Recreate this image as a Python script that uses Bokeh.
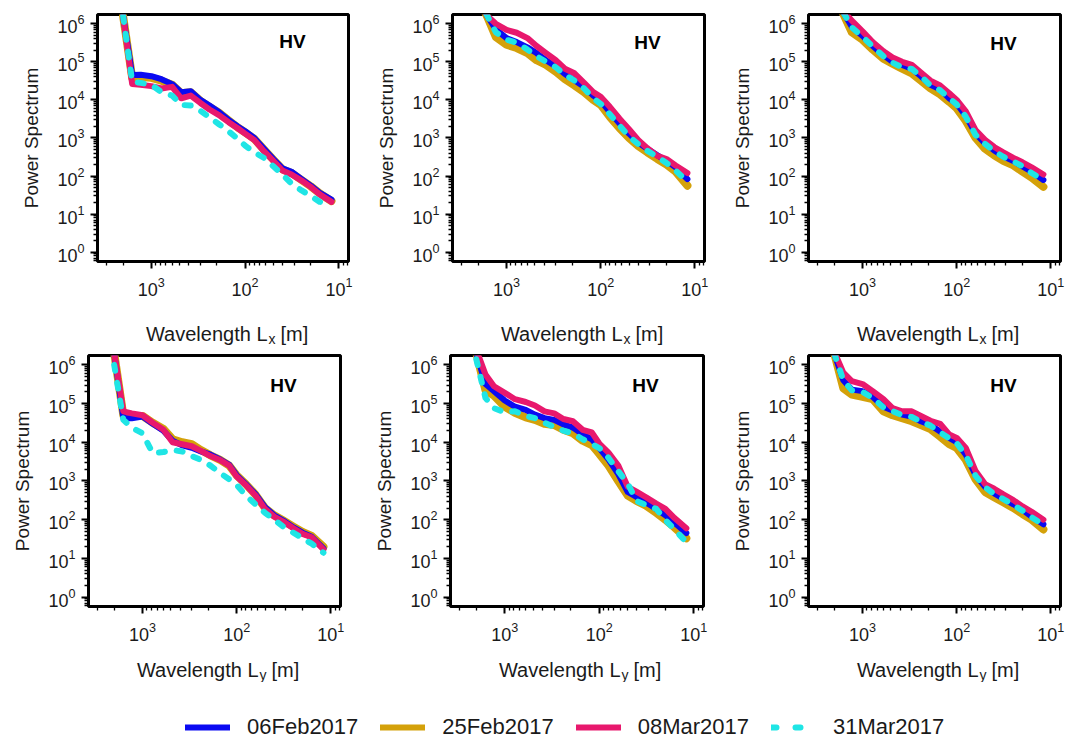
from bokeh.plotting import figure
from bokeh.layouts import column, row
from bokeh.models import Range1d, Label, Legend, LegendItem, FixedTicker
from bokeh.embed import file_html
from bokeh.resources import INLINE

# ---------------- data ----------------
wavelength = [2000, 1600, 1300, 1000, 780, 600, 480, 380, 300, 240, 190, 150,
              120, 100, 80, 63, 50, 40, 32, 25, 20, 16, 12]

series_names = ["06Feb2017", "25Feb2017", "08Mar2017", "31Mar2017"]

# Row 1 : Wavelength Lx
lx1_06feb = [1.6e6, 4.5e4, 4.6e4, 4.2e4, 3.5e4, 2.6e4, 1.6e4, 1.7e4, 1.0e4, 7.1e3, 4.8e3, 3.0e3, 2.0e3, 1.5e3, 1.0e3, 5.2e2, 2.8e2, 1.6e2, 1.3e2, 83, 56, 36, 24]
lx1_25feb = [1.6e6, 3.8e4, 4.0e4, 3.8e4, 3.2e4, 2.5e4, 1.5e4, 1.6e4, 9.5e3, 6.6e3, 4.6e3, 2.9e3, 1.9e3, 1.4e3, 9.5e2, 5.0e2, 2.7e2, 1.5e2, 1.2e2, 79, 54, 35, 22]
lx1_08mar = [1.6e6, 2.6e4, 2.5e4, 2.3e4, 2.0e4, 2.2e4, 1.1e4, 1.3e4, 8.3e3, 5.6e3, 4.0e3, 2.6e3, 1.8e3, 1.3e3, 8.9e2, 4.5e2, 2.5e2, 1.4e2, 1.1e2, 76, 52, 33, 21]
lx1_31mar = [1.6e6, 3.0e4, 2.8e4, 2.5e4, 1.6e4, 1.3e4, 7.4e3, 7.1e3, 5.2e3, 3.5e3, 2.3e3, 1.5e3, 9.5e2, 6.3e2, 4.2e2, 3.0e2, 1.8e2, 1.1e2, 63, 42, 30, 21, 18]

lx2_06feb = [5e6, 1.6e6, 7.1e5, 4.2e5, 3.3e5, 2.4e5, 1.7e5, 1.1e5, 7.6e4, 4.8e4, 3.3e4, 2.2e4, 1.3e4, 9.5e3, 4.8e3, 2.4e3, 1.3e3, 7.6e2, 5.2e2, 3.5e2, 2.5e2, 1.7e2, 83]
lx2_25feb = [5e6, 1.5e6, 4.5e5, 2.8e5, 2.3e5, 1.7e5, 1.1e5, 8.3e4, 5.5e4, 3.5e4, 2.4e4, 1.6e4, 1.0e4, 7.4e3, 3.6e3, 1.8e3, 1.0e3, 6.2e2, 4.2e2, 2.8e2, 2.0e2, 1.3e2, 56]
lx2_08mar = [5e6, 1.6e6, 1.0e6, 6.9e5, 5.8e5, 4.2e5, 2.6e5, 1.7e5, 1.1e5, 6.6e4, 5.0e4, 2.8e4, 1.6e4, 1.2e4, 6.6e3, 3.2e3, 1.7e3, 8.9e2, 5.4e2, 3.4e2, 2.8e2, 1.9e2, 1.2e2]
lx2_31mar = [5e6, 1.6e6, 6.0e5, 3.8e5, 3.2e5, 2.1e5, 1.4e5, 1.0e5, 7.2e4, 4.6e4, 3.2e4, 2.0e4, 1.1e4, 7.9e3, 4.2e3, 2.1e3, 1.1e3, 6.9e2, 4.6e2, 3.2e2, 2.2e2, 1.4e2, 71]

lx3_06feb = [5e6, 2.0e6, 8.3e5, 4.8e5, 2.6e5, 1.5e5, 1.0e5, 8.3e4, 6.6e4, 4.2e4, 2.5e4, 1.9e4, 1.1e4, 7.9e3, 3.8e3, 1.3e3, 7.2e2, 4.7e2, 3.3e2, 2.5e2, 1.8e2, 1.3e2, 79]
lx3_25feb = [5e6, 1.8e6, 6.0e5, 3.8e5, 2.1e5, 1.2e5, 8.9e4, 6.6e4, 5.0e4, 3.2e4, 2.0e4, 1.4e4, 8.9e3, 6.0e3, 2.8e3, 1.0e3, 5.2e2, 3.5e2, 2.5e2, 1.9e2, 1.3e2, 91, 52]
lx3_08mar = [5e6, 2.2e6, 1.2e6, 6.3e5, 3.3e5, 1.9e5, 1.3e5, 1.0e5, 8.3e4, 5.2e4, 3.2e4, 2.4e4, 1.5e4, 1.0e4, 5.0e3, 1.6e3, 8.9e2, 5.8e2, 4.2e2, 3.0e2, 2.3e2, 1.7e2, 1.1e2]
lx3_31mar = [5e6, 2.0e6, 8.0e5, 4.6e5, 2.5e5, 1.4e5, 9.5e4, 7.2e4, 6.5e4, 4.2e4, 2.4e4, 1.8e4, 1.1e4, 7.6e3, 3.6e3, 1.2e3, 7.0e2, 4.5e2, 3.2e2, 2.4e2, 1.8e2, 1.2e2, 78]

# Row 2 : Wavelength Ly
ly1_06feb = [2.0e6, 4.2e4, 4.2e4, 4.6e4, 3.0e4, 2.0e4, 1.1e4, 8.3e3, 7.2e3, 5.8e3, 4.8e3, 3.6e3, 2.6e3, 1.4e3, 8.3e2, 4.5e2, 2.1e2, 1.3e2, 95, 63, 46, 36, 18]
ly1_25feb = [2.0e6, 5.0e4, 4.8e4, 4.8e4, 3.2e4, 2.2e4, 1.2e4, 1.0e4, 8.9e3, 6.3e3, 4.6e3, 3.5e3, 2.5e3, 1.4e3, 8.3e2, 4.4e2, 2.0e2, 1.3e2, 95, 66, 48, 38, 20]
ly1_08mar = [2.0e6, 6.3e4, 5.6e4, 5.0e4, 3.2e4, 2.1e4, 1.0e4, 8.9e3, 7.9e3, 6.0e3, 4.4e3, 3.5e3, 2.5e3, 1.3e3, 7.9e2, 4.2e2, 1.9e2, 1.2e2, 89, 60, 43, 35, 17]
ly1_31mar = [1.0e6, 3.8e4, 2.4e4, 1.7e4, 5.2e3, 5.6e3, 6.3e3, 5.8e3, 4.4e3, 3.5e3, 2.5e3, 1.6e3, 1.1e3, 7.9e2, 4.2e2, 2.5e2, 1.5e2, 1.0e2, 66, 46, 33, 24, 14]

ly2_06feb = [2.0e6, 3.2e5, 2.1e5, 1.2e5, 8.3e4, 6.9e4, 5.2e4, 4.2e4, 3.8e4, 2.9e4, 2.4e4, 1.6e4, 1.2e4, 7.1e3, 3.6e3, 1.5e3, 5.2e2, 3.8e2, 2.8e2, 1.9e2, 1.3e2, 83, 45]
ly2_25feb = [2.0e6, 2.2e5, 1.6e5, 8.3e4, 5.8e4, 4.4e4, 3.8e4, 3.0e4, 2.8e4, 2.1e4, 1.7e4, 1.1e4, 8.5e3, 5.0e3, 2.5e3, 1.0e3, 4.2e2, 3.0e2, 2.3e2, 1.5e2, 1.0e2, 63, 33]
ly2_08mar = [2.5e6, 5.6e5, 2.8e5, 1.9e5, 1.3e5, 1.1e5, 8.9e4, 6.3e4, 5.6e4, 4.0e4, 3.5e4, 2.1e4, 1.8e4, 9.3e3, 5.4e3, 2.5e3, 7.1e2, 5.2e2, 3.8e2, 2.6e2, 1.9e2, 1.1e2, 60]
ly2_31mar = [1.4e6, 1.4e5, 7.6e4, 6.0e4, 6.3e4, 4.8e4, 4.2e4, 3.2e4, 2.5e4, 2.0e4, 1.7e4, 1.2e4, 9.1e3, 7.1e3, 4.0e3, 1.8e3, 8.5e2, 3.0e2, 2.4e2, 1.9e2, 98, 56, 26]

ly3_06feb = [2.0e6, 4.0e5, 2.3e5, 2.1e5, 1.5e5, 8.3e4, 6.6e4, 5.2e4, 4.6e4, 3.5e4, 2.8e4, 1.9e4, 1.3e4, 1.0e4, 4.8e3, 1.4e3, 7.1e2, 4.8e2, 3.5e2, 2.5e2, 1.8e2, 1.2e2, 76]
ly3_25feb = [2.0e6, 2.5e5, 1.7e5, 1.5e5, 1.3e5, 6.3e4, 5.0e4, 4.2e4, 3.5e4, 2.8e4, 2.2e4, 1.4e4, 8.9e3, 7.1e3, 3.5e3, 1.1e3, 5.2e2, 3.8e2, 2.8e2, 2.0e2, 1.4e2, 1.0e2, 56]
ly3_08mar = [2.2e6, 6.3e5, 3.8e5, 3.2e5, 2.1e5, 1.3e5, 7.6e4, 6.3e4, 6.3e4, 4.8e4, 3.6e4, 3.0e4, 1.6e4, 1.3e4, 7.1e3, 1.8e3, 8.3e2, 6.3e2, 4.5e2, 3.2e2, 2.2e2, 1.6e2, 1.0e2]
ly3_31mar = [2.0e6, 4.0e5, 2.2e5, 2.0e5, 1.4e5, 8.0e4, 6.4e4, 5.0e4, 4.5e4, 3.4e4, 2.7e4, 1.8e4, 1.25e4, 9.5e3, 4.6e3, 1.35e3, 6.9e2, 4.6e2, 3.4e2, 2.4e2, 1.7e2, 1.15e2, 74]

panel_label = "HV"
x_tick_values = [10, 100, 1000]
y_tick_values = [1, 10, 100, 1000, 1e4, 1e5, 1e6]

# ---------------- styling ----------------
COLORS = {"06Feb2017": "#0a0af2", "25Feb2017": "#d4a10a",
          "08Mar2017": "#e8186d", "31Mar2017": "#1fe5e5"}
WIDTHS = {"06Feb2017": 6, "25Feb2017": 8, "08Mar2017": 6, "31Mar2017": 6}
DASH = {"06Feb2017": "solid", "25Feb2017": "solid", "08Mar2017": "solid", "31Mar2017": "6 12"}
DRAW_ORDER = ["25Feb2017", "06Feb2017", "08Mar2017", "31Mar2017"]
FONT = "Liberation Sans"
TXT = "#1a1a1a"

minor_x = [m * 10 ** e for e in range(0, 4) for m in range(2, 10)]
minor_y = [m * 10 ** e for e in range(-1, 7) for m in range(2, 10)]

PANEL_H = 300


def make_panel(data, width, left, right, top, bottom):
    p = figure(width=width, height=PANEL_H, x_axis_type="log", y_axis_type="log",
               x_range=Range1d(3750, 7.9), y_range=Range1d(0.57, 1.75e6),
               output_backend="svg", toolbar_location=None,
               min_border_left=left, min_border_right=right,
               min_border_top=top, min_border_bottom=bottom)
    p.outline_line_color = "black"
    p.outline_line_width = 3
    p.outline_line_alpha = 1.0
    p.grid.visible = False
    p.background_fill_color = "white"
    p.border_fill_color = "white"

    for name in DRAW_ORDER:
        p.line(wavelength, data[name], line_color=COLORS[name], line_width=WIDTHS[name],
               line_dash=DASH[name], line_cap="round", line_join="round")

    p.xaxis.ticker = FixedTicker(ticks=x_tick_values, minor_ticks=minor_x)
    p.yaxis.ticker = FixedTicker(ticks=y_tick_values, minor_ticks=minor_y)
    for ax in (p.xaxis[0], p.yaxis[0]):
        ax.axis_line_color = None
        ax.major_tick_line_color = "black"
        ax.major_tick_line_width = 2
        ax.minor_tick_line_color = "black"
        ax.minor_tick_line_width = 1.3
        ax.major_tick_in = 0
        ax.major_tick_out = 7
        ax.minor_tick_in = 0
        ax.minor_tick_out = 4
        ax.major_label_text_font = FONT
        ax.major_label_text_font_size = "18px"
        ax.major_label_text_color = TXT
    p.xaxis.major_label_standoff = 8
    p.yaxis.major_label_standoff = 6
    p.yaxis.axis_label = "Power Spectrum"
    p.yaxis.axis_label_text_font = FONT
    p.yaxis.axis_label_text_font_size = "19px"
    p.yaxis.axis_label_text_font_style = "normal"
    p.yaxis.axis_label_text_color = TXT
    p.yaxis.axis_label_standoff = 12

    frame_h = PANEL_H - top - bottom
    p.add_layout(Label(x=195, y=frame_h - 30, x_units="screen", y_units="screen",
                       text=panel_label, text_align="center", text_baseline="middle",
                       text_font=FONT, text_font_size="19px", text_font_style="bold",
                       text_color="black"))
    return p


def label_strip(frame_lefts, sub, height, baseline):
    s = figure(width=1069, height=height, x_range=Range1d(0, 1069), y_range=Range1d(0, height),
               output_backend="svg", toolbar_location=None, min_border=0,
               x_axis_location=None, y_axis_location=None)
    s.outline_line_color = None
    s.grid.visible = False
    for fl in frame_lefts:
        s.add_layout(Label(x=fl + 170, y=baseline, x_units="screen", y_units="screen",
                           text="Wavelength L", text_align="right", text_baseline="alphabetic",
                           text_font=FONT, text_font_size="20px", text_color=TXT))
        s.add_layout(Label(x=fl + 171, y=baseline - 5, x_units="screen", y_units="screen",
                           text=sub, text_align="left", text_baseline="alphabetic",
                           text_font=FONT, text_font_size="14px", text_color=TXT))
        s.add_layout(Label(x=fl + 183, y=baseline, x_units="screen", y_units="screen",
                           text="[m]", text_align="left", text_baseline="alphabetic",
                           text_font=FONT, text_font_size="20px", text_color=TXT))
    return s


def pack(a, b, c, d):
    return dict(zip(series_names, [a, b, c, d]))


p1 = make_panel(pack(lx1_06feb, lx1_25feb, lx1_08mar, lx1_31mar), 356, 97, 8, 11, 39)
p2 = make_panel(pack(lx2_06feb, lx2_25feb, lx2_08mar, lx2_31mar), 356, 96, 8, 13, 38)
p3 = make_panel(pack(lx3_06feb, lx3_25feb, lx3_08mar, lx3_31mar), 357, 96, 9, 14, 38)
p4 = make_panel(pack(ly1_06feb, ly1_25feb, ly1_08mar, ly1_31mar), 356, 88, 16, 10, 39)
p5 = make_panel(pack(ly2_06feb, ly2_25feb, ly2_08mar, ly2_31mar), 356, 94, 9, 10, 39)
p6 = make_panel(pack(ly3_06feb, ly3_25feb, ly3_08mar, ly3_31mar), 357, 96, 9, 10, 39)

strip1 = label_strip([97, 452, 808], "x", 45, 12)
strip2 = label_strip([88, 450, 808], "y", 37, 13)

# ---------------- legend strip ----------------
pl = figure(width=1069, height=65, x_range=Range1d(0, 1), y_range=Range1d(0, 1),
            output_backend="svg", toolbar_location=None, min_border=0,
            x_axis_location=None, y_axis_location=None)
pl.outline_line_color = None
pl.grid.visible = False
items = []
nan = float("nan")
for name in series_names:
    dash = "5 19" if name == "31Mar2017" else "solid"
    r = pl.line(x=[nan], y=[nan], line_color=COLORS[name], line_width=6,
                line_dash=dash, line_cap="round")
    items.append(LegendItem(label=name, renderers=[r]))
leg = Legend(items=items, orientation="horizontal", location=(185, 7),
             label_text_font=FONT, label_text_font_size="22px", label_text_color=TXT,
             glyph_width=45, glyph_height=20, label_standoff=17, spacing=22,
             padding=6, margin=0, border_line_color=None, background_fill_alpha=0)
pl.add_layout(leg, "center")

layout = column(row(p1, p2, p3), strip1, row(p4, p5, p6), strip2, pl)
open("out.html", "w").write(file_html(layout, INLINE))
